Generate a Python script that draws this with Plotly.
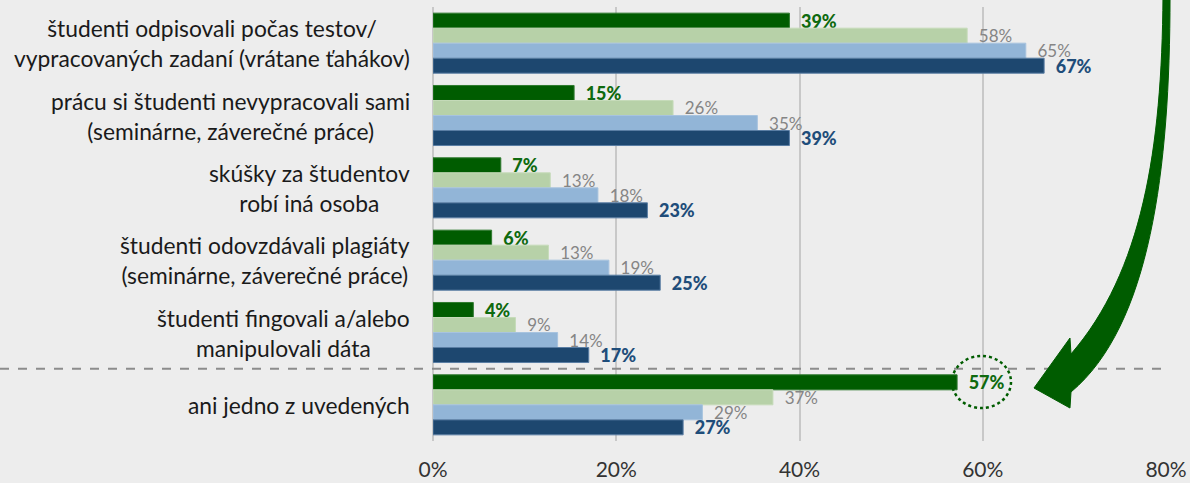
import plotly.graph_objects as go

# kategórie (zhora nadol)
categories = [
    "študenti odpisovali počas testov/<br>vypracovaných zadaní (vrátane ťahákov)",
    "prácu si študenti nevypracovali sami<br>(seminárne, záverečné práce)",
    "skúšky za študentov<br>robí iná osoba",
    "študenti odovzdávali plagiáty<br>(seminárne, záverečné práce)",
    "študenti fingovali a/alebo<br>manipulovali dáta",
    "ani jedno z uvedených",
]

# štyri série v poradí zhora nadol v každej skupine
series_1 = [38.9, 15.4, 7.4, 6.4, 4.4, 57.2]
series_2 = [58.3, 26.2, 12.8, 12.6, 9.0, 37.1]
series_3 = [64.7, 35.4, 18.0, 19.2, 13.6, 29.4]
series_4 = [66.7, 38.9, 23.4, 24.8, 17.0, 27.3]

x_ticks = [0, 20, 40, 60, 80]
x_tick_labels = ["0%", "20%", "40%", "60%", "80%"]

FONT = "Lato"
BG = "#ededed"
DARK_GREEN = "#005c00"

# rozmery plochy grafu v pixeloch (pre dekorácie mimo dát)
W, H = 1190, 483
L, R, T, B = 433, 24, 7, 42


def px_x(px):
    return (px - L) / (W - L - R)


def px_y(py):
    return (H - B - py) / (H - T - B)


styles = [
    (series_1, DARK_GREEN, "#2f7a2f", dict(color="#0f6a0f", size=18, family=FONT + " Black")),
    (series_2, "#b7d1a8", "#c6dbba", dict(color="#858585", size=17, family=FONT)),
    (series_3, "#92b5d7", "#a7c3df", dict(color="#858585", size=17, family=FONT)),
    (series_4, "#1d476f", "#5a7ea4", dict(color="#1f4d7a", size=18, family=FONT + " Black")),
]

fig = go.Figure()
for values, color, edge, tfont in styles:
    fig.add_trace(go.Bar(
        y=categories,
        x=values,
        orientation="h",
        marker=dict(color=color, line=dict(color=edge, width=1)),
        texttemplate="\u00a0\u00a0%{x:.0f}%",
        textposition="outside",
        textfont=tfont,
        constraintext="none",
        cliponaxis=False,
        hoverinfo="skip",
    ))

# popisy kategórií – centrované riadky
for cat in categories:
    fig.add_annotation(
        x=0, xref="paper", y=cat, yref="y",
        text=cat, showarrow=False,
        xanchor="right", xshift=-21, align="center",
        font=dict(family=FONT, size=22.8, color="#1a1a1a"),
    )

# prerušovaná deliaca čiara
fig.add_shape(
    type="line", xref="paper", yref="paper",
    x0=px_x(0), x1=px_x(1168), y0=1 / 6, y1=1 / 6,
    line=dict(color="#8c8c8c", width=2, dash="dash"),
)

# bodkovaný kruh okolo 57 %
fig.add_shape(
    type="circle", xref="paper", yref="paper",
    x0=px_x(952), x1=px_x(1011), y0=px_y(408), y1=px_y(356),
    line=dict(color=DARK_GREEN, width=2.5, dash="dot"),
)

# zakrivená šípka
pts = [
    ("M", [(1163, -4)]),
    ("C", [(1162, 150), (1142, 272), (1071, 354)]),
    ("L", [(1070, 338)]),
    ("L", [(1034, 388)]),
    ("L", [(1070, 408)]),
    ("L", [(1071, 392)]),
    ("C", [(1150, 326), (1170, 170), (1170, -4)]),
]
path = ""
for cmd, coords in pts:
    path += cmd + " " + " ".join(f"{px_x(a):.4f},{px_y(b):.4f}" for a, b in coords) + " "
path += "Z"
fig.add_shape(
    type="path", xref="paper", yref="paper", path=path,
    fillcolor=DARK_GREEN, line=dict(color=DARK_GREEN, width=1),
)

fig.update_layout(
    width=W, height=H,
    margin=dict(l=L, r=R, t=T, b=B, autoexpand=False),
    paper_bgcolor=BG, plot_bgcolor=BG,
    barmode="group", bargap=0.17, bargroupgap=0,
    showlegend=False,
    font=dict(family=FONT, size=20, color="#333333"),
)
fig.update_xaxes(
    range=[0, 80], tickvals=x_ticks, ticktext=x_tick_labels,
    showgrid=True, gridcolor="#c8c8c8", gridwidth=2,
    zeroline=True, zerolinecolor="#c8c8c8", zerolinewidth=2,
    automargin=False, ticklabelstandoff=14,
    tickfont=dict(family=FONT, size=21, color="#333333"),
)
fig.update_yaxes(
    range=[5.5, -0.5], showticklabels=False, showgrid=False, zeroline=False,
    automargin=False,
)

fig.write_html(
    "out.html",
    config={"displayModeBar": False},
    post_script="document.body.style.margin='0';document.body.style.background='%s';" % BG,
)
